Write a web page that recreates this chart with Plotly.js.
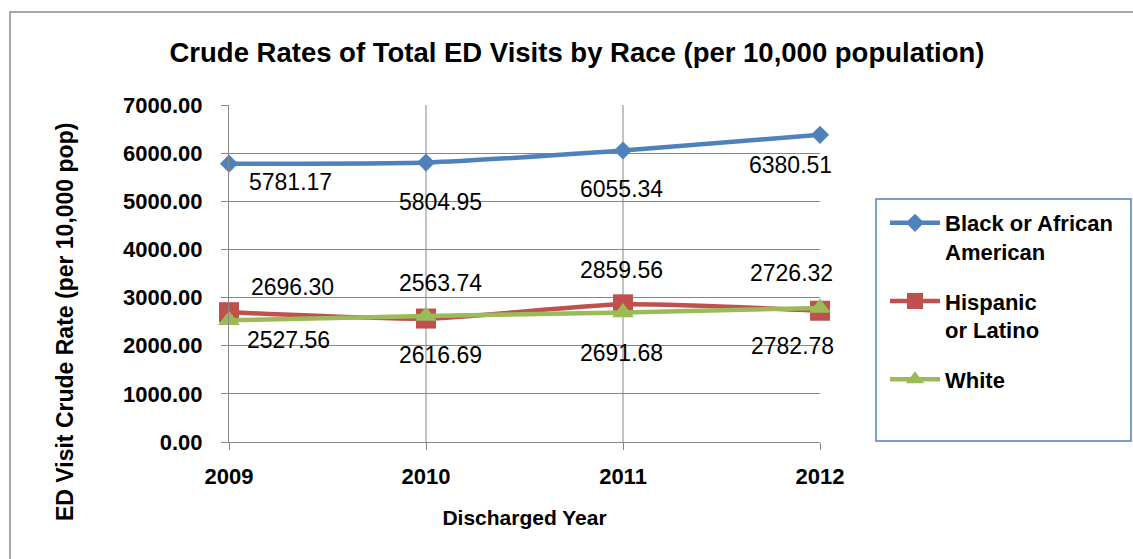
<!DOCTYPE html>
<html>
<head>
<meta charset="utf-8">
<script src="https://cdn.plot.ly/plotly-3.0.1.min.js"></script>
<style>
  html, body { margin: 0; padding: 0; background: #ffffff; }
  #chart { width: 1133px; height: 559px; }
</style>
</head>
<body>
<div id="chart"></div>
<script>
// ---- data ----
var years = [2009, 2010, 2011, 2012];
var yearLabels = ['2009', '2010', '2011', '2012'];
var seriesNames = ['Black or African<br>American', 'Hispanic<br>or Latino', 'White'];
var black = [5781.17, 5804.95, 6055.34, 6380.51];
var hispanic = [2696.30, 2563.74, 2859.56, 2726.32];
var white = [2527.56, 2616.69, 2691.68, 2782.78];
var yTicks = [0, 1000, 2000, 3000, 4000, 5000, 6000, 7000];

// ---- styling ----
var colors = ['#4F81BD', '#C0504D', '#9BBB59'];
var symbols = ['diamond', 'square', 'triangle-up'];
var sizes = [14, 20, 19];
var labelShifts = [
  [[61, -18], [14, -39], [-2, -39], [-30, -30]],
  [[63, 25], [14, 36], [-2, 34], [-29, 38]],
  [[59, -20], [14, -39], [-2, -41], [-28, -38]]
];
var allSeries = [black, hispanic, white];
var FONT = 'Liberation Sans, Arial, sans-serif';
var GRID = '#868686';

var traces = allSeries.map(function (vals, i) {
  return {
    type: 'scatter',
    mode: 'lines+markers',
    x: years,
    y: vals,
    name: seriesNames[i],
    legendgroup: 'g' + i,
    line: { color: colors[i], width: 4.5, shape: 'spline', smoothing: 0.6 },
    marker: { symbol: symbols[i], size: sizes[i], color: colors[i] },
    cliponaxis: false,
    hoverinfo: 'x+y'
  };
});

var annotations = [];
allSeries.forEach(function (vals, i) {
  vals.forEach(function (v, j) {
    annotations.push({
      x: years[j], y: v, xref: 'x', yref: 'y',
      text: v.toFixed(2), showarrow: false,
      xshift: labelShifts[i][j][0], yshift: labelShifts[i][j][1],
      font: { family: FONT, size: 23, color: '#000000' }
    });
  });
});
// y-axis title (positioned like the original, below plot centre)
annotations.push({
  xref: 'paper', yref: 'paper',
  x: (65 - 229) / 591, y: (442 - 322) / 337,
  text: 'ED Visit Crude Rate (per 10,000 pop)', textangle: -90,
  showarrow: false, xanchor: 'center', yanchor: 'middle',
  font: { family: FONT, size: 23, color: '#000000', weight: 'bold' }
});

// vertical gridlines only at interior categories (as in the original)
var shapes = years.slice(1, years.length - 1).map(function (yr) {
  return { type: 'line', xref: 'x', yref: 'paper', x0: yr, x1: yr, y0: 0, y1: 1,
           line: { color: GRID, width: 1 }, layer: 'below' };
});
shapes.push(
  { type: 'rect', xref: 'paper', yref: 'paper',
    x0: (876 - 229) / 591, x1: (1131 - 229) / 591,
    y0: (442 - 441) / 337, y1: (442 - 199) / 337,
    line: { color: '#4F81BD', width: 1.5 }, fillcolor: 'rgba(0,0,0,0)' },
  { type: 'rect', xref: 'paper', yref: 'paper',
    x0: (10 - 229) / 591, x1: (1145 - 229) / 591,
    y0: (442 - 575) / 337, y1: (442 - 12) / 337,
    line: { color: '#8c8c8c', width: 1.5 }, fillcolor: 'rgba(0,0,0,0)' }
);

var layout = {
  width: 1133, height: 559,
  paper_bgcolor: '#ffffff', plot_bgcolor: '#ffffff',
  margin: { l: 229, r: 313, t: 105, b: 117 },
  title: {
    text: '<b>Crude Rates of Total ED Visits by Race (per 10,000 population)</b>',
    x: 577 / 1133, xanchor: 'center', y: 1 - 52 / 559, yanchor: 'middle',
    font: { family: FONT, size: 27.5, color: '#000000' }
  },
  xaxis: {
    type: 'linear', range: [2009, 2012],
    tickvals: years, ticktext: yearLabels,
    showgrid: false,
    showline: true, linecolor: GRID, linewidth: 1,
    ticks: 'outside', ticklen: 7, tickcolor: GRID,
    zeroline: false,
    tickfont: { family: FONT, size: 22, color: '#000000', weight: 'bold' },
    ticklabelstandoff: 8,
    title: {
      text: '<b>Discharged Year</b>', standoff: 21,
      font: { family: FONT, size: 21, color: '#000000' }
    }
  },
  yaxis: {
    range: [0, 7000], tickvals: yTicks, tickformat: '.2f',
    showgrid: true, gridcolor: GRID, gridwidth: 1,
    showline: true, linecolor: GRID, linewidth: 1,
    ticks: 'outside', ticklen: 7, tickcolor: GRID,
    zeroline: false,
    tickfont: { family: FONT, size: 22, color: '#000000', weight: 'bold' },
    ticklabelstandoff: 14
  },
  legend: {
    x: (885 - 229) / 591, xanchor: 'left',
    y: (442 - 202) / 337, yanchor: 'top',
    valign: 'top', itemwidth: 50,
    tracegroupgap: 18,
    bgcolor: 'rgba(0,0,0,0)', borderwidth: 0,
    font: { family: FONT, size: 22, color: '#000000', weight: 'bold' }
  },
  showlegend: true,
  annotations: annotations,
  shapes: shapes
};

Plotly.newPlot('chart', traces, layout, { displayModeBar: false, staticPlot: true });
</script>
</body>
</html>
